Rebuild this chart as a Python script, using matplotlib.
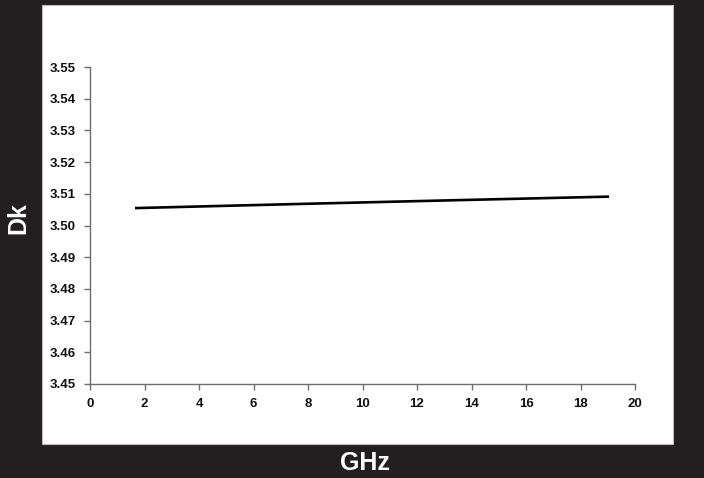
import matplotlib
matplotlib.use("Agg")
import matplotlib.pyplot as plt
from matplotlib.patches import Rectangle

plt.rcParams['font.family'] = ['Liberation Sans', 'DejaVu Sans']

freq_ghz = [1.7, 7.7, 13.5, 19.0]
dk = [3.5055, 3.5068, 3.5080, 3.5091]
x_ticks = [0, 2, 4, 6, 8, 10, 12, 14, 16, 18, 20]
y_ticks = [3.45, 3.46, 3.47, 3.48, 3.49, 3.50, 3.51, 3.52, 3.53, 3.54, 3.55]

bg = '#231f20'
fig = plt.figure(figsize=(7.04, 4.78), dpi=100, facecolor=bg)
fig.patches.append(Rectangle((42/704, 1-444/478), (673-42)/704, (444-5)/478,
                             transform=fig.transFigure, facecolor='white',
                             edgecolor='#bbbbbb', lw=0.8, zorder=-10))

ax = fig.add_axes([90/704, 1-384/478, (635-90)/704, (384-67)/478])
ax.set_zorder(5)
ax.set_facecolor('none')
ax.plot(freq_ghz, dk, color='black', lw=1.9)
ax.set_xlim(0, 20)
ax.set_ylim(3.45, 3.55)
ax.set_xticks(x_ticks)
ax.set_yticks(y_ticks)
ax.set_xticklabels([str(t) for t in x_ticks])
ax.set_yticklabels([f"{t:.2f}" for t in y_ticks])
for s in ['top', 'right']:
    ax.spines[s].set_visible(False)
for s in ['left', 'bottom']:
    ax.spines[s].set_color('#6e6e6e')
    ax.spines[s].set_linewidth(1.0)
ax.tick_params(axis='both', direction='out', length=4, width=1.0, color='#6e6e6e',
               labelsize=9.5, labelcolor='#111111', pad=6)
for lab in ax.get_xticklabels() + ax.get_yticklabels():
    lab.set_fontweight('bold')

fig.text(365/704, 1-463/478, 'GHz', color='white', fontsize=18, fontweight='bold',
         ha='center', va='center')
fig.text(18/704, 1-218/478, 'Dk', color='white', fontsize=18, fontweight='bold',
         ha='center', va='center', rotation=90)

fig.savefig('out.png', dpi=100, facecolor=bg)
